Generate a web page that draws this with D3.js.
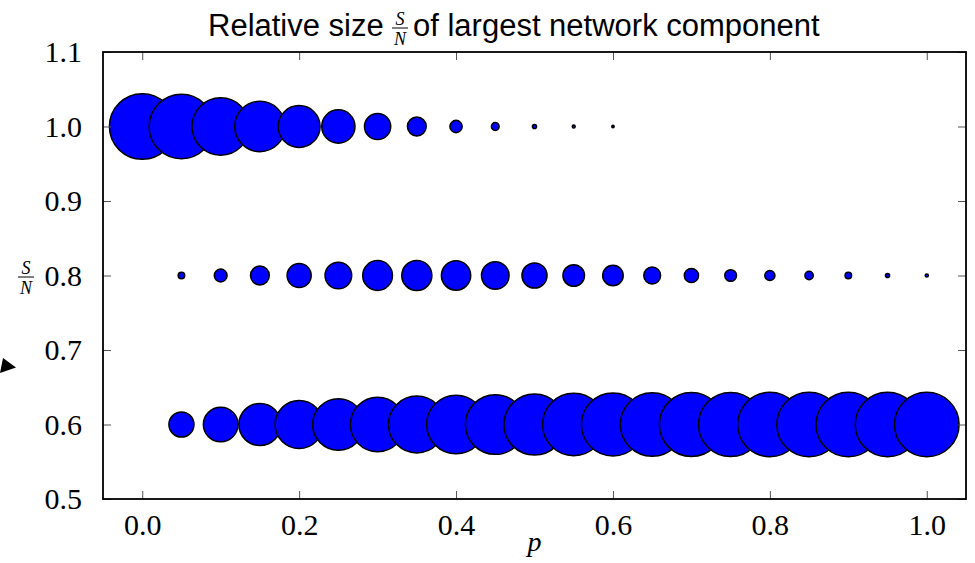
<!DOCTYPE html>
<html>
<head>
<meta charset="utf-8">
<script src="https://cdn.jsdelivr.net/npm/d3@7"></script>
<style>
  html, body { margin: 0; padding: 0; background: #fff; }
  svg { display: block; }
</style>
</head>
<body>
<svg id="chart" width="975" height="563"></svg>
<script>
// rows: value of S/N for each band of points
const pTop    = [0, 0.05, 0.1, 0.15, 0.2, 0.25, 0.3, 0.35, 0.4, 0.45, 0.5, 0.55, 0.6]
const countTop = [1000, 970, 765, 589, 408, 257, 160, 82, 35, 14, 4, 2, 1.3]

const pMid    = [0.05, 0.1, 0.15, 0.2, 0.25, 0.3, 0.35, 0.4, 0.45, 0.5,
                 0.55, 0.6, 0.65, 0.7, 0.75, 0.8, 0.85, 0.9, 0.95, 1.0]
const countMid = [10, 38, 82, 135, 165, 206, 211, 200, 177, 146,
                  108, 98, 66, 47, 32, 24, 16, 10, 4, 2.3]

const pBot    = [0.05, 0.1, 0.15, 0.2, 0.25, 0.3, 0.35, 0.4, 0.45, 0.5,
                 0.55, 0.6, 0.65, 0.7, 0.75, 0.8, 0.85, 0.9, 0.95, 1.0]
const countBot = [146, 279, 412, 535, 616, 689, 749, 802, 829, 867,
                  901, 924, 941, 953, 959, 965, 970, 970, 970, 970]

const rowLevels = [1.0, 0.8, 0.6]

const xTicks = [0, 0.2, 0.4, 0.6, 0.8, 1.0]
const yTicks = [0.5, 0.6, 0.7, 0.8, 0.9, 1.0, 1.1]

const rows = [
    {level: rowLevels[0], p: pTop, count: countTop},
    {level: rowLevels[1], p: pMid, count: countMid},
    {level: rowLevels[2], p: pBot, count: countBot},
]

const W = 975, H = 563
const margin = {top: 52, right: 9, bottom: 64, left: 103}
const iw = W - margin.left - margin.right
const ih = H - margin.top - margin.bottom

const serif = "'Liberation Serif', 'DejaVu Serif', serif"
const sans  = "'Liberation Sans', Arial, sans-serif"

const x = d3.scaleLinear().domain([-0.05, 1.05]).range([0, iw])
const y = d3.scaleLinear().domain([0.5, 1.1]).range([ih, 0])
const r = d3.scaleSqrt().domain([0, 1000]).range([0, 32.8])

const svg = d3.select("#chart")
const g = svg.append("g").attr("transform", `translate(${margin.left},${margin.top})`)

svg.append("defs").append("clipPath").attr("id", "plotClip")
    .append("rect").attr("width", iw).attr("height", ih)

// points, drawn row by row, left to right
const pts = g.append("g").attr("clip-path", "url(#plotClip)")
rows.forEach(row => {
    pts.append("g")
        .selectAll("circle")
        .data(row.p.map((p, i) => ({p, c: row.count[i]})))
        .join("circle")
        .attr("cx", d => x(d.p))
        .attr("cy", y(row.level))
        .attr("r", d => r(d.c))
        .attr("fill", "#0000ff")
        .attr("stroke", "#000")
        .attr("stroke-width", 1.5)
})

// axes: ticks inward on all four sides
function styleAxis(sel) {
    sel.select(".domain").remove()
    sel.selectAll(".tick line").attr("stroke", "#555").attr("stroke-width", 1)
    sel.selectAll(".tick text")
        .attr("font-family", serif).attr("font-size", 30).attr("fill", "#000")
}
g.append("g").attr("transform", `translate(0,${ih})`)
    .call(d3.axisBottom(x).tickValues(xTicks).tickFormat(d3.format(".1f"))
        .tickSizeInner(-8).tickSizeOuter(0).tickPadding(15))
    .call(styleAxis)
g.append("g")
    .call(d3.axisTop(x).tickValues(xTicks).tickFormat("").tickSizeInner(-8).tickSizeOuter(0))
    .call(styleAxis)
g.append("g")
    .call(d3.axisLeft(y).tickValues(yTicks).tickFormat(d3.format(".1f"))
        .tickSizeInner(-8).tickSizeOuter(0).tickPadding(21))
    .call(styleAxis)
g.append("g").attr("transform", `translate(${iw},0)`)
    .call(d3.axisRight(y).tickValues(yTicks).tickFormat("").tickSizeInner(-8).tickSizeOuter(0))
    .call(styleAxis)

// frame
g.append("rect")
    .attr("width", iw).attr("height", ih)
    .attr("fill", "none").attr("stroke", "#000").attr("stroke-width", 1.8)

// title with inline S/N fraction
const title = svg.append("g").attr("font-family", sans).attr("font-size", 31).attr("fill", "#000")
title.append("text").attr("x", 208).attr("y", 36).text("Relative size")
title.append("text").attr("x", 413).attr("y", 36).text("of largest network component")
function fraction(parent, cx, cy, size) {
    const f = parent.append("g").attr("font-family", serif).attr("font-style", "italic")
        .attr("font-size", size).attr("text-anchor", "middle").attr("fill", "#000")
    f.append("text").attr("x", cx).attr("y", cy - 3).text("S")
    f.append("line").attr("x1", cx - 8).attr("x2", cx + 8).attr("y1", cy).attr("y2", cy)
        .attr("stroke", "#000").attr("stroke-width", 1)
    f.append("text").attr("x", cx).attr("y", cy - 3 + Math.ceil(size * 1.11)).text("N")
}
fraction(svg, 400, 28, 18)

// axis labels
fraction(svg, 26, 277, 18)
svg.append("text")
    .attr("x", margin.left + iw / 2).attr("y", 551)
    .attr("text-anchor", "middle")
    .attr("font-family", serif).attr("font-style", "italic").attr("font-size", 28)
    .text("p")

// stray arrow head at the left edge
svg.append("path")
    .attr("d", "M3,358 L16,367.5 L0,373 Z")
    .attr("fill", "#000")
</script>
</body>
</html>
